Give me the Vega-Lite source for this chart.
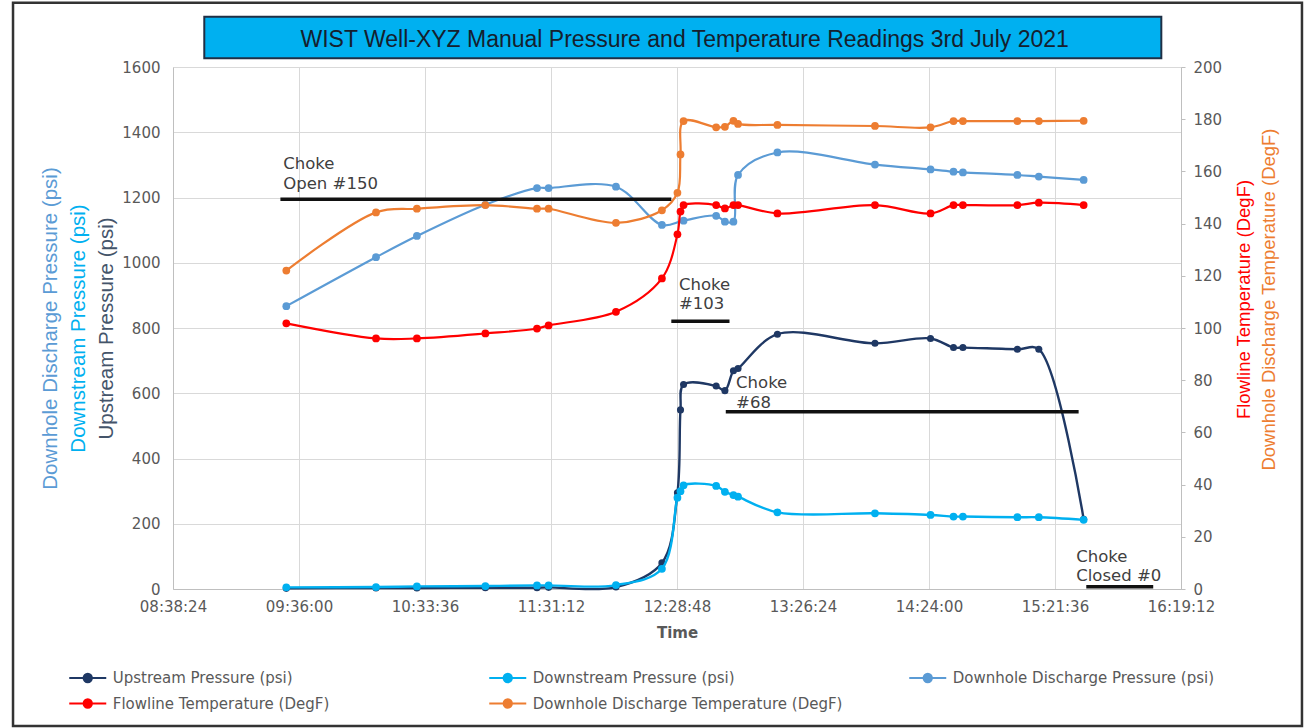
{
  "$schema": "https://vega.github.io/schema/vega-lite/v6.json",
  "width": 1008,
  "height": 522,
  "autosize": "none",
  "padding": {"left": 173, "top": 67, "right": 126, "bottom": 139},
  "background": "white",
  "config": {
    "font": "DejaVu Sans",
    "view": {"stroke": null},
    "axis": {"labelFont": "DejaVu Sans", "labelFontSize": 15, "labelColor": "#595959", "gridColor": "#d9d9d9", "domainColor": "#bfbfbf", "tickColor": "#bfbfbf", "titleFont": "DejaVu Sans"}
  },
  "datasets": {
    "readings": [
      {"time": "2021-07-03T09:30:12Z", "series": "Upstream Pressure (psi)", "value": 2},
      {"time": "2021-07-03T10:11:12Z", "series": "Upstream Pressure (psi)", "value": 3},
      {"time": "2021-07-03T10:29:54Z", "series": "Upstream Pressure (psi)", "value": 3},
      {"time": "2021-07-03T11:01:12Z", "series": "Upstream Pressure (psi)", "value": 4},
      {"time": "2021-07-03T11:24:48Z", "series": "Upstream Pressure (psi)", "value": 4},
      {"time": "2021-07-03T11:30:06Z", "series": "Upstream Pressure (psi)", "value": 5},
      {"time": "2021-07-03T12:00:54Z", "series": "Upstream Pressure (psi)", "value": 6},
      {"time": "2021-07-03T12:21:54Z", "series": "Upstream Pressure (psi)", "value": 80},
      {"time": "2021-07-03T12:29:00Z", "series": "Upstream Pressure (psi)", "value": 295},
      {"time": "2021-07-03T12:30:24Z", "series": "Upstream Pressure (psi)", "value": 549},
      {"time": "2021-07-03T12:31:48Z", "series": "Upstream Pressure (psi)", "value": 627},
      {"time": "2021-07-03T12:46:42Z", "series": "Upstream Pressure (psi)", "value": 622},
      {"time": "2021-07-03T12:50:42Z", "series": "Upstream Pressure (psi)", "value": 608},
      {"time": "2021-07-03T12:54:36Z", "series": "Upstream Pressure (psi)", "value": 669},
      {"time": "2021-07-03T12:56:42Z", "series": "Upstream Pressure (psi)", "value": 676},
      {"time": "2021-07-03T13:14:42Z", "series": "Upstream Pressure (psi)", "value": 781},
      {"time": "2021-07-03T13:59:18Z", "series": "Upstream Pressure (psi)", "value": 753},
      {"time": "2021-07-03T14:24:42Z", "series": "Upstream Pressure (psi)", "value": 768},
      {"time": "2021-07-03T14:35:12Z", "series": "Upstream Pressure (psi)", "value": 740},
      {"time": "2021-07-03T14:39:30Z", "series": "Upstream Pressure (psi)", "value": 740},
      {"time": "2021-07-03T15:04:24Z", "series": "Upstream Pressure (psi)", "value": 735},
      {"time": "2021-07-03T15:14:12Z", "series": "Upstream Pressure (psi)", "value": 735},
      {"time": "2021-07-03T15:34:42Z", "series": "Upstream Pressure (psi)", "value": 214},

      {"time": "2021-07-03T09:30:12Z", "series": "Downstream Pressure (psi)", "value": 5},
      {"time": "2021-07-03T10:11:12Z", "series": "Downstream Pressure (psi)", "value": 6},
      {"time": "2021-07-03T10:29:54Z", "series": "Downstream Pressure (psi)", "value": 8},
      {"time": "2021-07-03T11:01:12Z", "series": "Downstream Pressure (psi)", "value": 9},
      {"time": "2021-07-03T11:24:48Z", "series": "Downstream Pressure (psi)", "value": 11},
      {"time": "2021-07-03T11:30:06Z", "series": "Downstream Pressure (psi)", "value": 11},
      {"time": "2021-07-03T12:00:54Z", "series": "Downstream Pressure (psi)", "value": 12},
      {"time": "2021-07-03T12:21:54Z", "series": "Downstream Pressure (psi)", "value": 62},
      {"time": "2021-07-03T12:29:00Z", "series": "Downstream Pressure (psi)", "value": 280},
      {"time": "2021-07-03T12:30:24Z", "series": "Downstream Pressure (psi)", "value": 300},
      {"time": "2021-07-03T12:31:48Z", "series": "Downstream Pressure (psi)", "value": 318},
      {"time": "2021-07-03T12:46:42Z", "series": "Downstream Pressure (psi)", "value": 316},
      {"time": "2021-07-03T12:50:42Z", "series": "Downstream Pressure (psi)", "value": 298},
      {"time": "2021-07-03T12:54:36Z", "series": "Downstream Pressure (psi)", "value": 288},
      {"time": "2021-07-03T12:56:42Z", "series": "Downstream Pressure (psi)", "value": 283},
      {"time": "2021-07-03T13:14:42Z", "series": "Downstream Pressure (psi)", "value": 235},
      {"time": "2021-07-03T13:59:18Z", "series": "Downstream Pressure (psi)", "value": 232},
      {"time": "2021-07-03T14:24:42Z", "series": "Downstream Pressure (psi)", "value": 227},
      {"time": "2021-07-03T14:35:12Z", "series": "Downstream Pressure (psi)", "value": 222},
      {"time": "2021-07-03T14:39:30Z", "series": "Downstream Pressure (psi)", "value": 222},
      {"time": "2021-07-03T15:04:24Z", "series": "Downstream Pressure (psi)", "value": 220},
      {"time": "2021-07-03T15:14:12Z", "series": "Downstream Pressure (psi)", "value": 220},
      {"time": "2021-07-03T15:34:42Z", "series": "Downstream Pressure (psi)", "value": 212},

      {"time": "2021-07-03T09:30:12Z", "series": "Downhole Discharge Pressure (psi)", "value": 867},
      {"time": "2021-07-03T10:11:12Z", "series": "Downhole Discharge Pressure (psi)", "value": 1017},
      {"time": "2021-07-03T10:29:54Z", "series": "Downhole Discharge Pressure (psi)", "value": 1082},
      {"time": "2021-07-03T11:01:12Z", "series": "Downhole Discharge Pressure (psi)", "value": 1178},
      {"time": "2021-07-03T11:24:48Z", "series": "Downhole Discharge Pressure (psi)", "value": 1229},
      {"time": "2021-07-03T11:30:06Z", "series": "Downhole Discharge Pressure (psi)", "value": 1229},
      {"time": "2021-07-03T12:00:54Z", "series": "Downhole Discharge Pressure (psi)", "value": 1233},
      {"time": "2021-07-03T12:21:54Z", "series": "Downhole Discharge Pressure (psi)", "value": 1116},
      {"time": "2021-07-03T12:31:48Z", "series": "Downhole Discharge Pressure (psi)", "value": 1129},
      {"time": "2021-07-03T12:46:42Z", "series": "Downhole Discharge Pressure (psi)", "value": 1144},
      {"time": "2021-07-03T12:50:42Z", "series": "Downhole Discharge Pressure (psi)", "value": 1126},
      {"time": "2021-07-03T12:54:36Z", "series": "Downhole Discharge Pressure (psi)", "value": 1126},
      {"time": "2021-07-03T12:56:42Z", "series": "Downhole Discharge Pressure (psi)", "value": 1269},
      {"time": "2021-07-03T13:14:42Z", "series": "Downhole Discharge Pressure (psi)", "value": 1338},
      {"time": "2021-07-03T13:59:18Z", "series": "Downhole Discharge Pressure (psi)", "value": 1301},
      {"time": "2021-07-03T14:24:42Z", "series": "Downhole Discharge Pressure (psi)", "value": 1286},
      {"time": "2021-07-03T14:35:12Z", "series": "Downhole Discharge Pressure (psi)", "value": 1279},
      {"time": "2021-07-03T14:39:30Z", "series": "Downhole Discharge Pressure (psi)", "value": 1277},
      {"time": "2021-07-03T15:04:24Z", "series": "Downhole Discharge Pressure (psi)", "value": 1269},
      {"time": "2021-07-03T15:14:12Z", "series": "Downhole Discharge Pressure (psi)", "value": 1264},
      {"time": "2021-07-03T15:34:42Z", "series": "Downhole Discharge Pressure (psi)", "value": 1254},

      {"time": "2021-07-03T09:30:12Z", "series": "Flowline Temperature (DegF)", "value": 101.8},
      {"time": "2021-07-03T10:11:12Z", "series": "Flowline Temperature (DegF)", "value": 96},
      {"time": "2021-07-03T10:29:54Z", "series": "Flowline Temperature (DegF)", "value": 96},
      {"time": "2021-07-03T11:01:12Z", "series": "Flowline Temperature (DegF)", "value": 97.9},
      {"time": "2021-07-03T11:24:48Z", "series": "Flowline Temperature (DegF)", "value": 99.8},
      {"time": "2021-07-03T11:30:06Z", "series": "Flowline Temperature (DegF)", "value": 101},
      {"time": "2021-07-03T12:00:54Z", "series": "Flowline Temperature (DegF)", "value": 106.2},
      {"time": "2021-07-03T12:21:54Z", "series": "Flowline Temperature (DegF)", "value": 119},
      {"time": "2021-07-03T12:29:00Z", "series": "Flowline Temperature (DegF)", "value": 135.9},
      {"time": "2021-07-03T12:30:24Z", "series": "Flowline Temperature (DegF)", "value": 144.6},
      {"time": "2021-07-03T12:31:48Z", "series": "Flowline Temperature (DegF)", "value": 147.1},
      {"time": "2021-07-03T12:46:42Z", "series": "Flowline Temperature (DegF)", "value": 147.1},
      {"time": "2021-07-03T12:50:42Z", "series": "Flowline Temperature (DegF)", "value": 145.8},
      {"time": "2021-07-03T12:54:36Z", "series": "Flowline Temperature (DegF)", "value": 147.1},
      {"time": "2021-07-03T12:56:42Z", "series": "Flowline Temperature (DegF)", "value": 147.1},
      {"time": "2021-07-03T13:14:42Z", "series": "Flowline Temperature (DegF)", "value": 143.9},
      {"time": "2021-07-03T13:59:18Z", "series": "Flowline Temperature (DegF)", "value": 147.1},
      {"time": "2021-07-03T14:24:42Z", "series": "Flowline Temperature (DegF)", "value": 143.9},
      {"time": "2021-07-03T14:35:12Z", "series": "Flowline Temperature (DegF)", "value": 147.1},
      {"time": "2021-07-03T14:39:30Z", "series": "Flowline Temperature (DegF)", "value": 147.1},
      {"time": "2021-07-03T15:04:24Z", "series": "Flowline Temperature (DegF)", "value": 147.1},
      {"time": "2021-07-03T15:14:12Z", "series": "Flowline Temperature (DegF)", "value": 148},
      {"time": "2021-07-03T15:34:42Z", "series": "Flowline Temperature (DegF)", "value": 147.1},

      {"time": "2021-07-03T09:30:12Z", "series": "Downhole Discharge Temperature (DegF)", "value": 122},
      {"time": "2021-07-03T10:11:12Z", "series": "Downhole Discharge Temperature (DegF)", "value": 144.3},
      {"time": "2021-07-03T10:29:54Z", "series": "Downhole Discharge Temperature (DegF)", "value": 145.7},
      {"time": "2021-07-03T11:01:12Z", "series": "Downhole Discharge Temperature (DegF)", "value": 147.1},
      {"time": "2021-07-03T11:24:48Z", "series": "Downhole Discharge Temperature (DegF)", "value": 145.7},
      {"time": "2021-07-03T11:30:06Z", "series": "Downhole Discharge Temperature (DegF)", "value": 145.7},
      {"time": "2021-07-03T12:00:54Z", "series": "Downhole Discharge Temperature (DegF)", "value": 140.3},
      {"time": "2021-07-03T12:21:54Z", "series": "Downhole Discharge Temperature (DegF)", "value": 145.1},
      {"time": "2021-07-03T12:29:00Z", "series": "Downhole Discharge Temperature (DegF)", "value": 151.8},
      {"time": "2021-07-03T12:30:24Z", "series": "Downhole Discharge Temperature (DegF)", "value": 166.5},
      {"time": "2021-07-03T12:31:48Z", "series": "Downhole Discharge Temperature (DegF)", "value": 179.3},
      {"time": "2021-07-03T12:46:42Z", "series": "Downhole Discharge Temperature (DegF)", "value": 176.9},
      {"time": "2021-07-03T12:50:42Z", "series": "Downhole Discharge Temperature (DegF)", "value": 177.1},
      {"time": "2021-07-03T12:54:36Z", "series": "Downhole Discharge Temperature (DegF)", "value": 179.4},
      {"time": "2021-07-03T12:56:42Z", "series": "Downhole Discharge Temperature (DegF)", "value": 178.2},
      {"time": "2021-07-03T13:14:42Z", "series": "Downhole Discharge Temperature (DegF)", "value": 177.8},
      {"time": "2021-07-03T13:59:18Z", "series": "Downhole Discharge Temperature (DegF)", "value": 177.4},
      {"time": "2021-07-03T14:24:42Z", "series": "Downhole Discharge Temperature (DegF)", "value": 176.9},
      {"time": "2021-07-03T14:35:12Z", "series": "Downhole Discharge Temperature (DegF)", "value": 179.3},
      {"time": "2021-07-03T14:39:30Z", "series": "Downhole Discharge Temperature (DegF)", "value": 179.3},
      {"time": "2021-07-03T15:04:24Z", "series": "Downhole Discharge Temperature (DegF)", "value": 179.3},
      {"time": "2021-07-03T15:14:12Z", "series": "Downhole Discharge Temperature (DegF)", "value": 179.3},
      {"time": "2021-07-03T15:34:42Z", "series": "Downhole Discharge Temperature (DegF)", "value": 179.4}
    ],
    "chokes": [
      {"label": "Choke\nOpen #150", "start": "2021-07-03T09:27:30Z", "end": "2021-07-03T12:26:12Z", "psi": 1195, "labelTime": "2021-07-03T09:28:48Z", "labelPsi": 1216},
      {"label": "Choke\n#103", "start": "2021-07-03T12:26:12Z", "end": "2021-07-03T12:52:48Z", "psi": 821, "labelTime": "2021-07-03T12:29:42Z", "labelPsi": 847},
      {"label": "Choke\n#68", "start": "2021-07-03T12:51:06Z", "end": "2021-07-03T15:32:24Z", "psi": 543, "labelTime": "2021-07-03T12:55:48Z", "labelPsi": 545},
      {"label": "Choke\nClosed #0", "start": "2021-07-03T15:35:54Z", "end": "2021-07-03T16:06:30Z", "psi": 7, "labelTime": "2021-07-03T15:31:18Z", "labelPsi": 13}
    ],
    "heading": [
      {"title": "WIST Well-XYZ Manual Pressure and Temperature Readings 3rd July 2021"}
    ]
  },
  "data": {"name": "readings"},
  "layer": [
    {
      "data": {"name": "heading"},
      "encoding": {
        "y": {"datum": 1797, "type": "quantitative", "scale": {"domain": [0, 1600], "nice": false}, "axis": null}
      },
      "layer": [
        {"mark": {"type": "rect", "clip": false, "invalid": null, "fillOpacity": 0, "stroke": "#333333", "strokeWidth": 2.5},
          "encoding": {
            "x": {"datum": 1625297116000, "type": "temporal"},
            "x2": {"datum": 1625332470000},
            "y": {"datum": 1797, "type": "quantitative"},
            "y2": {"datum": -420}
          }},
        {"mark": {"type": "rect", "clip": false, "invalid": null, "fill": "#00B0F0", "stroke": "#1F2F45", "strokeWidth": 2},
          "encoding": {
            "x": {"datum": 1625302362000, "type": "temporal"},
            "x2": {"datum": 1625328612000},
            "y": {"datum": 1754, "type": "quantitative"},
            "y2": {"datum": 1627}
          }},
        {"mark": {"type": "text", "clip": false, "invalid": null, "font": "Liberation Sans", "fontSize": 23, "color": "#15202e", "align": "center", "baseline": "alphabetic"},
          "encoding": {
            "x": {"datum": 1625315538000, "type": "temporal"},
            "y": {"datum": 1662, "type": "quantitative"},
            "text": {"field": "title"}
          }}
      ]
    },
    {
      "transform": [{"filter": "datum.series === 'Upstream Pressure (psi)'"}],
      "encoding": {
        "x": {
          "field": "time", "type": "temporal",
          "scale": {"type": "utc", "domain": [
            {"year": 2021, "month": 7, "date": 3, "hours": 8, "minutes": 38, "seconds": 24, "utc": true},
            {"year": 2021, "month": 7, "date": 3, "hours": 16, "minutes": 19, "seconds": 12, "utc": true}], "nice": false},
          "axis": {
            "values": [
              {"year": 2021, "month": 7, "date": 3, "hours": 8, "minutes": 38, "seconds": 24, "utc": true},
              {"year": 2021, "month": 7, "date": 3, "hours": 9, "minutes": 36, "seconds": 0, "utc": true},
              {"year": 2021, "month": 7, "date": 3, "hours": 10, "minutes": 33, "seconds": 36, "utc": true},
              {"year": 2021, "month": 7, "date": 3, "hours": 11, "minutes": 31, "seconds": 12, "utc": true},
              {"year": 2021, "month": 7, "date": 3, "hours": 12, "minutes": 28, "seconds": 48, "utc": true},
              {"year": 2021, "month": 7, "date": 3, "hours": 13, "minutes": 26, "seconds": 24, "utc": true},
              {"year": 2021, "month": 7, "date": 3, "hours": 14, "minutes": 24, "seconds": 0, "utc": true},
              {"year": 2021, "month": 7, "date": 3, "hours": 15, "minutes": 21, "seconds": 36, "utc": true},
              {"year": 2021, "month": 7, "date": 3, "hours": 16, "minutes": 19, "seconds": 12, "utc": true}],
            "format": "%H:%M:%S", "grid": true, "ticks": false, "domain": true,
            "labelPadding": 10, "labelOverlap": false, "labelFlush": false, "labelBound": false,
            "title": "Time", "titleFontSize": 15, "titleFontWeight": "bold", "titleColor": "#595959", "titlePadding": 11
          }
        },
        "y": {"field": "value", "type": "quantitative", "scale": {"domain": [0, 1600], "nice": false},
          "axis": {"orient": "left", "values": [0, 200, 400, 600, 800, 1000, 1200, 1400, 1600], "format": "d", "grid": true, "ticks": false, "domain": true,
            "labelPadding": 13, "title": "Upstream Pressure (psi)", "titleColor": "#44546A", "titleFont": "Liberation Sans",
            "titleFontSize": 20.5, "titleFontWeight": "normal", "titleX": -67, "titleY": 261, "titleAngle": -90, "titleBaseline": "middle"}},
        "color": {"field": "series", "type": "nominal",
          "legend": {"title": null, "orient": "none", "direction": "horizontal", "legendX": -95.75, "legendY": 600.5, "columns": 3, "gridAlign": "all",
            "columnPadding": 61, "rowPadding": 6.5, "labelFont": "DejaVu Sans", "labelFontSize": 15, "labelColor": "#595959",
            "labelLimit": 400, "labelOffset": 14.5, "padding": 0,
            "symbolType": "M-2,0L-0.44,0A0.44,0.44 0 1,1 0.44,0L2,0M0.44,0A0.44,0.44 0 1,1 -0.44,0",
            "symbolSize": 342.25, "symbolStrokeWidth": 2.2},
          "scale": {"domain": ["Upstream Pressure (psi)", "Downstream Pressure (psi)", "Downhole Discharge Pressure (psi)", "Flowline Temperature (DegF)", "Downhole Discharge Temperature (DegF)"], "range": ["#1F3864", "#00B0F0", "#5B9BD5", "#FF0000", "#ED7D31"]}}
      },
      "layer": [
        {"mark": {"type": "line", "interpolate": "catmull-rom", "strokeWidth": 2.4}},
        {"mark": {"type": "point", "filled": true, "size": 50, "opacity": 1}}
      ]
    },
    {
      "transform": [{"filter": "datum.series === 'Downstream Pressure (psi)'"}],
      "encoding": {
        "x": {"field": "time", "type": "temporal"},
        "y": {"field": "value", "type": "quantitative", "scale": {"domain": [0, 1600], "nice": false},
          "axis": {"orient": "left", "grid": false, "ticks": false, "domain": false, "labels": false,
            "title": "Downstream Pressure (psi)", "titleColor": "#00B0F0", "titleFont": "Liberation Sans",
            "titleFontSize": 20.5, "titleFontWeight": "normal", "titleX": -95, "titleY": 261, "titleAngle": -90, "titleBaseline": "middle"}},
        "color": {"field": "series", "type": "nominal",
          "scale": {"domain": ["Upstream Pressure (psi)", "Downstream Pressure (psi)", "Downhole Discharge Pressure (psi)", "Flowline Temperature (DegF)", "Downhole Discharge Temperature (DegF)"], "range": ["#1F3864", "#00B0F0", "#5B9BD5", "#FF0000", "#ED7D31"]}}
      },
      "layer": [
        {"mark": {"type": "line", "interpolate": "catmull-rom", "strokeWidth": 2.4}},
        {"mark": {"type": "point", "filled": true, "size": 60, "opacity": 1}}
      ]
    },
    {
      "transform": [{"filter": "datum.series === 'Downhole Discharge Pressure (psi)'"}],
      "encoding": {
        "x": {"field": "time", "type": "temporal"},
        "y": {"field": "value", "type": "quantitative", "scale": {"domain": [0, 1600], "nice": false},
          "axis": {"orient": "left", "grid": false, "ticks": false, "domain": false, "labels": false,
            "title": "Downhole Discharge Pressure (psi)", "titleColor": "#5B9BD5", "titleFont": "Liberation Sans",
            "titleFontSize": 20.5, "titleFontWeight": "normal", "titleX": -123, "titleY": 261, "titleAngle": -90, "titleBaseline": "middle"}},
        "color": {"field": "series", "type": "nominal",
          "scale": {"domain": ["Upstream Pressure (psi)", "Downstream Pressure (psi)", "Downhole Discharge Pressure (psi)", "Flowline Temperature (DegF)", "Downhole Discharge Temperature (DegF)"], "range": ["#1F3864", "#00B0F0", "#5B9BD5", "#FF0000", "#ED7D31"]}}
      },
      "layer": [
        {"mark": {"type": "line", "interpolate": "catmull-rom", "strokeWidth": 2.2}},
        {"mark": {"type": "point", "filled": true, "size": 60, "opacity": 1}}
      ]
    },
    {
      "transform": [{"filter": "datum.series === 'Flowline Temperature (DegF)'"}],
      "encoding": {
        "x": {"field": "time", "type": "temporal"},
        "y": {"field": "value", "type": "quantitative", "scale": {"domain": [0, 200], "nice": false},
          "axis": {"orient": "right", "values": [0, 20, 40, 60, 80, 100, 120, 140, 160, 180, 200], "grid": false, "ticks": true, "tickSize": 4, "domain": true,
            "labelPadding": 8, "title": "Flowline Temperature (DegF)", "titleColor": "#FF0000", "titleFont": "Liberation Sans",
            "titleFontSize": 18.5, "titleFontWeight": "normal", "titleX": 62, "titleY": 232, "titleAngle": -90, "titleBaseline": "middle"}},
        "color": {"field": "series", "type": "nominal",
          "scale": {"domain": ["Upstream Pressure (psi)", "Downstream Pressure (psi)", "Downhole Discharge Pressure (psi)", "Flowline Temperature (DegF)", "Downhole Discharge Temperature (DegF)"], "range": ["#1F3864", "#00B0F0", "#5B9BD5", "#FF0000", "#ED7D31"]}}
      },
      "layer": [
        {"mark": {"type": "line", "interpolate": "catmull-rom", "strokeWidth": 2.2}},
        {"mark": {"type": "point", "filled": true, "size": 60, "opacity": 1}}
      ]
    },
    {
      "transform": [{"filter": "datum.series === 'Downhole Discharge Temperature (DegF)'"}],
      "encoding": {
        "x": {"field": "time", "type": "temporal"},
        "y": {"field": "value", "type": "quantitative", "scale": {"domain": [0, 200], "nice": false},
          "axis": {"orient": "right", "grid": false, "ticks": false, "domain": false, "labels": false,
            "title": "Downhole Discharge Temperature (DegF)", "titleColor": "#ED7D31", "titleFont": "Liberation Sans",
            "titleFontSize": 18.5, "titleFontWeight": "normal", "titleX": 87, "titleY": 232, "titleAngle": -90, "titleBaseline": "middle"}},
        "color": {"field": "series", "type": "nominal",
          "scale": {"domain": ["Upstream Pressure (psi)", "Downstream Pressure (psi)", "Downhole Discharge Pressure (psi)", "Flowline Temperature (DegF)", "Downhole Discharge Temperature (DegF)"], "range": ["#1F3864", "#00B0F0", "#5B9BD5", "#FF0000", "#ED7D31"]}}
      },
      "layer": [
        {"mark": {"type": "line", "interpolate": "catmull-rom", "strokeWidth": 2.2}},
        {"mark": {"type": "point", "filled": true, "size": 60, "opacity": 1}}
      ]
    },
    {
      "data": {"name": "chokes"},
      "encoding": {
        "y": {"field": "psi", "type": "quantitative", "scale": {"domain": [0, 1600], "nice": false}, "axis": null}
      },
      "layer": [
        {"mark": {"type": "rule", "color": "#111111", "strokeWidth": 3.5},
          "encoding": {
            "x": {"field": "start", "type": "temporal"},
            "x2": {"field": "end"}
          }},
        {"mark": {"type": "text", "font": "DejaVu Sans", "fontSize": 16.5, "color": "#404040", "align": "left", "baseline": "bottom", "lineBreak": "\n", "lineHeight": 19.5, "dy": -20},
          "encoding": {
            "x": {"field": "labelTime", "type": "temporal"},
            "y": {"field": "labelPsi", "type": "quantitative"},
            "text": {"field": "label"}
          }}
      ]
    }
  ],
  "resolve": {"scale": {"y": "independent"}}
}
